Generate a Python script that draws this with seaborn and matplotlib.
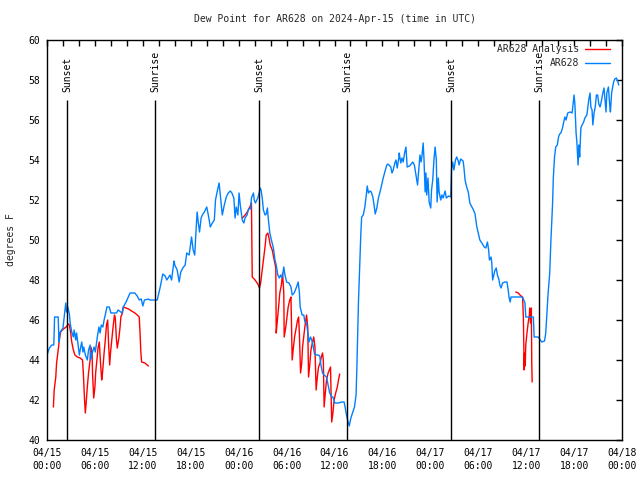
import numpy as np
import pandas as pd
import seaborn as sns
import matplotlib.pyplot as plt
import matplotlib.dates as mdates

# station readings (hours after 2024-04-15 00:00 UTC, degrees F)
ar628_hours = [
    0.0, 0.3, 0.6, 0.85, 0.9, 0.95, 1.4, 1.5, 1.6, 2.0, 2.25, 2.35, 2.45, 2.6, 2.8, 2.9,
    3.1, 3.3, 3.4, 3.6, 3.7, 3.85, 4.05, 4.2, 4.35, 4.5, 4.6, 4.8, 5.05, 5.2, 5.4, 5.45,
    5.7, 5.9, 6.05, 6.3, 6.5, 6.65, 6.8, 7.0, 7.15, 7.35, 7.5, 7.8, 8.0, 8.7, 8.9, 9.4,
    9.55, 9.9, 10.4, 11.0, 11.3, 11.55, 11.8, 12.0, 12.2, 12.7, 12.9, 13.8, 14.15, 14.5,
    14.8, 15.0, 15.4, 15.6, 15.9, 16.0, 16.3, 16.55, 16.75, 17.0, 17.3, 17.5, 17.8, 18.1,
    18.3, 18.5, 18.65, 18.8, 18.95, 19.1, 19.3, 19.45, 19.7, 20.0, 20.2, 20.45, 20.7, 20.95,
    21.1, 21.3, 21.55, 21.7, 21.95, 22.2, 22.45, 22.7, 22.95, 23.15, 23.4, 23.55, 23.7, 23.9,
    24.05, 24.2, 24.45, 24.65, 24.8, 25.05, 25.2, 25.4, 25.5, 25.6, 25.85, 25.95, 26.1, 26.4,
    26.55, 26.7, 26.8, 26.95, 27.1, 27.3, 27.45, 27.6, 27.7, 27.9, 28.1, 28.35, 28.55, 28.7,
    28.9, 29.1, 29.25, 29.45, 29.65, 29.8, 30.0, 30.3, 30.55, 30.7, 30.95, 31.25, 31.45, 31.6,
    31.7, 31.95, 32.15, 32.3, 32.5, 32.65, 32.8, 33.0, 33.15, 33.3, 33.5, 33.7, 34.0, 34.15,
    34.3, 34.5, 34.7, 35.0, 35.2, 35.4, 35.65, 35.8, 36.05, 36.5, 36.9, 37.2, 37.35, 37.5,
    37.7, 37.85, 38.05, 38.3, 38.5, 38.7, 38.8, 38.9, 39.0, 39.15, 39.3, 39.4, 39.6, 39.8,
    39.95, 40.1, 40.25, 40.45, 40.6, 40.8, 40.95, 41.1, 41.3, 41.5, 41.7, 41.9, 42.1, 42.3,
    42.55, 42.7, 43.05, 43.2, 43.35, 43.55, 43.7, 43.85, 44.05, 44.1, 44.3, 44.45, 44.6, 44.8,
    44.95, 45.1, 45.4, 45.8, 46.0, 46.1, 46.3, 46.4, 46.55, 46.7, 46.85, 46.95, 47.1, 47.2,
    47.35, 47.45, 47.55, 47.7, 47.85, 48.05, 48.15, 48.3, 48.45, 48.6, 48.75, 48.85, 49.0, 49.1,
    49.3, 49.45, 49.6, 49.85, 50.0, 50.3, 50.55, 50.65, 50.8, 50.95, 51.15, 51.3, 51.5, 51.6,
    51.8, 52.1, 52.2, 52.35, 52.55, 52.75, 52.95, 53.2, 53.4, 53.6, 53.8, 54.0, 54.2, 54.45,
    54.75, 54.95, 55.15, 55.3, 55.4, 55.6, 55.7, 55.8, 55.95, 56.1, 56.25, 56.4, 56.6, 56.7,
    56.85, 57.05, 57.35, 57.6, 57.75, 57.85, 58.0, 58.1, 59.45, 59.6, 59.85, 59.95, 60.9, 60.95,
    61.0, 61.5, 61.95, 62.3, 62.45, 62.55, 62.75, 62.95, 63.1, 63.3, 63.4, 63.55, 63.7, 63.9,
    64.05, 64.2, 64.35, 64.55, 64.7, 64.85, 65.0, 65.2, 65.5, 65.75, 66.0, 66.1, 66.25, 66.35,
    66.5, 66.6, 66.7, 66.85, 67.0, 67.2, 67.35, 67.6, 67.85, 68.0, 68.1, 68.25, 68.35, 68.5,
    68.65, 68.8, 68.95, 69.1, 69.25, 69.4, 69.6, 69.75, 69.9, 70.0, 70.1, 70.3, 70.45, 70.55,
    70.7, 70.95, 71.1, 71.3, 71.45, 71.6,
]
ar628_dewpt = [
    44.25, 44.6, 44.75, 44.75, 45.4, 46.15, 46.15, 44.9, 45.35, 45.6, 46.5, 46.85, 46.4, 46.65, 46.3, 45.85,
    45.4, 45.15, 45.5, 45.0, 45.35, 44.9, 44.25, 44.6, 44.9, 44.4, 44.65, 44.25, 44.0, 44.5, 44.75, 44.0,
    44.4, 44.65, 44.4, 45.15, 45.65, 45.35, 45.75, 45.65, 46.0, 46.35, 46.65, 46.65, 46.35, 46.35, 46.5, 46.35,
    46.65, 46.9, 47.35, 47.35, 47.2, 47.0, 47.05, 46.7, 47.0, 47.05, 47.0, 47.0, 47.6, 48.3,
    48.2, 48.0, 48.25, 48.0, 48.95, 48.75, 48.5, 47.9, 48.4, 48.6, 48.75, 49.35, 49.25, 50.15,
    49.5, 49.25, 50.4, 51.4, 50.85, 50.4, 51.1, 51.25, 51.4, 51.65, 51.25, 50.65, 50.85, 51.0,
    52.0, 52.4, 52.85, 52.25, 51.25, 51.75, 52.15, 52.35, 52.45, 52.35, 52.1, 51.1, 51.65, 51.25,
    52.35, 51.75, 51.0, 50.85, 51.1, 51.25, 51.5, 51.6, 51.55, 52.1, 52.35, 52.0, 51.85, 52.1,
    52.35, 52.6, 52.5, 52.1, 51.5, 51.25, 51.3, 51.6, 51.1, 50.35, 50.0, 49.6, 49.0, 48.75,
    48.25, 48.1, 48.25, 48.1, 48.65, 48.25, 47.9, 47.85, 47.65, 47.25, 47.35, 47.65, 47.9, 47.4,
    46.65, 46.25, 46.25, 45.9, 45.85, 45.4, 44.9, 45.15, 45.0, 44.75, 44.3, 44.25, 44.25, 44.2,
    43.75, 43.35, 43.25, 43.15, 42.75, 42.35, 42.15, 42.15, 41.85, 41.85, 41.9, 41.9, 41.6, 41.25,
    40.9, 40.7, 41.1, 41.4, 41.65, 42.25, 43.6, 45.25, 46.9, 48.6, 50.35, 51.15, 51.25, 51.65,
    52.15, 52.7, 52.35, 52.45, 52.4, 52.15, 51.75, 51.3, 51.6, 52.1, 52.4, 52.75, 53.1, 53.4,
    53.75, 53.8, 53.65, 53.35, 53.5, 53.85, 54.0, 53.6, 54.1, 54.35, 53.85, 54.1, 53.9, 54.4,
    54.65, 53.65, 53.7, 53.9, 53.75, 53.5, 53.0, 52.75, 53.5, 54.25, 53.9, 54.2, 54.85, 54.1,
    52.4, 53.35, 52.25, 53.1, 51.9, 51.6, 52.5, 53.0, 54.0, 54.65, 54.0, 51.9, 53.1, 52.4,
    52.0, 52.25, 52.1, 52.45, 52.1, 52.2, 52.15, 53.5, 53.9, 53.5, 54.0, 54.15, 53.95, 53.75,
    54.05, 53.95, 53.65, 53.0, 52.65, 52.4, 51.85, 51.65, 51.5, 51.3, 50.7, 50.35, 50.0, 49.85,
    49.65, 49.6, 49.9, 49.5, 49.0, 49.15, 48.85, 48.0, 48.25, 48.5, 48.6, 48.25, 48.0, 47.75,
    47.6, 47.85, 47.9, 47.9, 47.5, 47.15, 46.9, 47.15, 47.15, 47.1, 46.85, 46.15, 46.15, 45.65,
    45.15, 45.15, 44.9, 44.95, 45.35, 46.0, 47.35, 48.35, 50.0, 51.75, 53.1, 54.15, 54.65, 54.75,
    55.15, 55.3, 55.35, 55.6, 55.9, 56.15, 56.0, 56.35, 56.4, 56.35, 57.25, 56.8, 55.35, 54.9,
    53.75, 54.75, 54.15, 55.6, 55.75, 55.9, 56.1, 56.25, 57.05, 57.35, 56.65, 56.5, 55.75, 56.35,
    56.65, 57.25, 57.25, 56.8, 56.65, 56.9, 57.35, 57.6, 56.9, 56.4, 57.35, 57.65, 56.8, 56.4,
    57.35, 57.9, 58.05, 58.1, 57.95, 57.75,
]

# analysis values, in three separate stretches
analysis_hours = [
    [0.8, 0.9, 1.1, 1.2, 1.4, 1.55, 1.7, 2.05, 2.4, 2.65, 2.8, 2.95, 3.1, 3.3, 3.5, 3.8,
     4.15, 4.45, 4.55, 4.7, 4.8, 4.9, 5.05, 5.2, 5.4, 5.5, 5.65, 5.7, 5.85, 6.0, 6.1, 6.25,
     6.4, 6.55, 6.7, 6.85, 6.95, 7.15, 7.3, 7.45, 7.6, 7.7, 7.85, 7.95, 8.15, 8.3, 8.45, 8.55,
     8.7, 8.8, 9.0, 9.15, 9.25, 9.45, 9.55, 9.9, 10.2, 10.6, 11.0, 11.3, 11.55, 11.65, 11.75,
     11.85, 12.25, 12.7],
    [24.45, 24.7, 25.0, 25.2, 25.45, 25.6, 25.7, 26.05, 26.4, 26.6, 26.75, 26.95, 27.1, 27.3,
     27.45, 27.65, 27.8, 27.95, 28.2, 28.45, 28.65, 28.7, 28.85, 29.0, 29.15, 29.35, 29.5,
     29.65, 29.7, 29.9, 30.05, 30.2, 30.4, 30.55, 30.7, 30.85, 31.0, 31.2, 31.35, 31.5, 31.6,
     31.75, 31.9, 32.0, 32.2, 32.35, 32.5, 32.65, 32.75, 32.9, 33.05, 33.25, 33.4, 33.55,
     33.7, 33.85, 34.0, 34.2, 34.35, 34.5, 34.6, 34.7, 34.85, 35.0, 35.2, 35.5, 35.65, 35.8,
     35.95, 36.15, 36.35, 36.5, 36.65],
    [58.7, 59.0, 59.35, 59.55, 59.65, 59.75, 59.8, 59.88, 59.95, 60.1, 60.25, 60.4, 60.45,
     60.55, 60.65, 60.7, 60.75],
]
analysis_dewpt = [
    [41.65, 42.5, 43.15, 43.85, 44.5, 45.0, 45.4, 45.55, 45.65, 45.8, 45.75, 45.4, 44.9, 44.5, 44.25, 44.15,
     44.1, 44.0, 43.35, 42.0, 41.35, 41.85, 42.65, 43.35, 44.0, 44.65, 44.35, 43.35, 42.1, 42.65, 43.4, 44.0,
     44.65, 44.9, 43.85, 43.0, 43.35, 44.35, 45.0, 45.75, 46.0, 44.9, 43.75, 44.35, 45.15, 45.75, 46.25, 46.1,
     45.0, 44.6, 45.1, 45.65, 46.15, 46.35, 46.65, 46.6, 46.55, 46.45, 46.35, 46.25, 46.15, 45.35, 44.4,
     43.9, 43.85, 43.7],
    [51.1, 51.2, 51.35, 51.5, 51.7, 51.85, 48.15, 48.0, 47.8, 47.6, 47.85, 48.5, 49.0, 49.65,
     50.25, 50.35, 50.1, 49.75, 49.5, 49.0, 48.6, 45.35, 46.0, 46.65, 47.35, 47.75, 48.35,
     47.35, 45.15, 45.65, 46.15, 46.65, 47.0, 47.15, 44.0, 44.6, 45.15, 45.6, 45.95, 46.15, 45.35,
     43.35, 43.85, 44.65, 45.35, 45.85, 46.25, 45.65, 43.15, 43.75, 44.5, 44.9, 45.15, 44.65,
     42.5, 43.15, 43.65, 43.85, 44.15, 44.35, 44.0, 41.65, 42.35, 43.0, 43.35, 43.65, 40.9, 41.35,
     42.0, 42.35, 42.65, 43.0, 43.3],
    [47.4, 47.35, 47.2, 47.15, 46.15, 43.5, 44.35, 43.7, 44.75, 45.35, 45.85, 46.25, 46.6,
     45.85, 46.6, 43.85, 42.9],
]

sunset_times = ['2024-04-15 02:30', '2024-04-16 02:33', '2024-04-17 02:35']
sunrise_times = ['2024-04-15 13:31', '2024-04-16 13:34', '2024-04-17 13:37']

start = pd.Timestamp('2024-04-15 00:00')


def to_time(hours):
    return start + pd.to_timedelta(np.asarray(hours), unit='h')


sns.set_style('white')
plt.rcParams['font.family'] = ['DejaVu Sans Mono']
plt.rcParams['font.size'] = 7

fig = plt.figure(figsize=(6.4, 4.8), dpi=100)
ax = fig.add_axes([47 / 640, 40 / 480, 575 / 640, 400 / 480])

# analysis first so it is first in the legend
for i, (h, v) in enumerate(zip(analysis_hours, analysis_dewpt)):
    sns.lineplot(x=to_time(h), y=v, ax=ax, color='#ff0000', linewidth=1,
                 label='AR628 Analysis' if i == 0 else None)
sns.lineplot(x=to_time(ar628_hours), y=ar628_dewpt, ax=ax, color='#0080ff',
             linewidth=1, label='AR628')

for name, times in [('Sunset', sunset_times), ('Sunrise', sunrise_times)]:
    for t in pd.to_datetime(times):
        ax.vlines(t, 40, 57, color='black', linewidth=1)
        ax.text(t, 57.4, name, rotation=90, ha='center', va='bottom', color='black')

ax.set_xlim(start, start + pd.Timedelta(hours=72))
ax.set_ylim(40, 60)
ax.set_yticks(np.arange(40, 61, 2))
ax.xaxis.set_major_locator(mdates.HourLocator(byhour=[0, 6, 12, 18]))
ax.xaxis.set_minor_locator(mdates.HourLocator(byhour=range(0, 24, 2)))
ax.xaxis.set_major_formatter(mdates.DateFormatter('%m/%d\n%H:%M'))
ax.tick_params(which='both', direction='in', top=True, right=True, length=4,
               width=1, color='black', labelcolor='black')
ax.tick_params(axis='x', pad=6)
ax.tick_params(axis='y', pad=5)
for lbl in ax.get_xticklabels():
    lbl.set_linespacing(1.35)
for s in ax.spines.values():
    s.set_color('black')
    s.set_linewidth(1)

ax.set_xlabel('')
ax.set_ylabel('degrees F', labelpad=9)
ax.set_title('Dew Point for AR628 on 2024-Apr-15 (time in UTC)', fontsize=7, pad=13)

ax.legend(loc='upper right', bbox_to_anchor=(1 - 12 / 575, 1 - 4 / 400),
          frameon=False, markerfirst=False, borderpad=0, borderaxespad=0,
          handlelength=2.6, handletextpad=0.6, labelspacing=0.45)

fig.savefig('out.png', dpi=100)
